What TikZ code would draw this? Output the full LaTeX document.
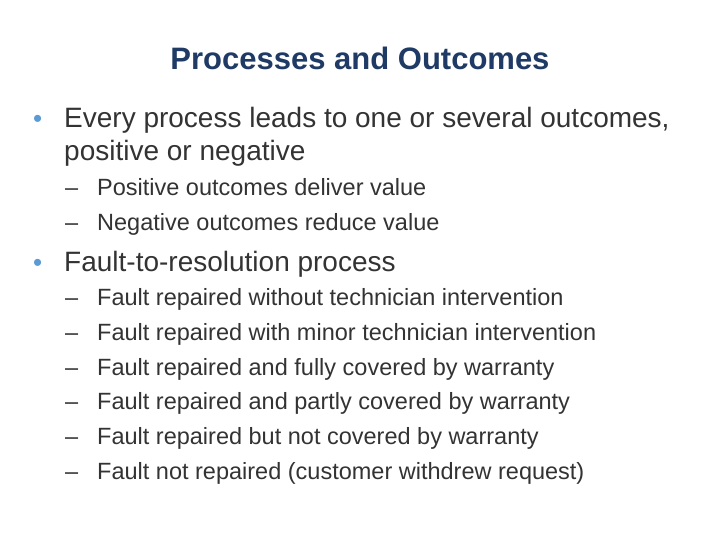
\documentclass[tikz,border=0pt]{standalone}
\usepackage{fontspec}
\setmainfont{Liberation Sans}
\definecolor{titlec}{HTML}{1F3A64}
\definecolor{bulc}{HTML}{5B9BD5}
\definecolor{txt}{HTML}{333333}
\begin{document}
\begin{tikzpicture}[x=1pt,y=-1pt,
  ttl/.style={font=\fontsize{31}{36}\selectfont\bfseries,text=titlec},
  lvone/.style={anchor=base west,inner sep=0,font=\fontsize{28}{32}\selectfont,text=txt},
  lvtwo/.style={anchor=base west,inner sep=0,font=\fontsize{23.5}{28}\selectfont,text=txt},
  dot/.style={anchor=base west,inner sep=0,font=\fontsize{26}{30}\selectfont,text=bulc},
  dsh/.style={anchor=base west,inner sep=0,font=\fontsize{23.5}{28}\selectfont,text=txt}]
\useasboundingbox[fill=white] (0,0) rectangle (720,540);
\node[ttl] (t) at (360,58) {Processes and Outcomes};
\node[dot] (b1) at (33,128) {•};
\node[lvone] (l1) at (64,128) {Every process leads to one or several outcomes,};
\node[lvone] (l1b) at (64,161) {positive or negative};
\node[dsh] (d1) at (65,196) {–}; \node[lvtwo] (s1) at (97,196) {Positive outcomes deliver value};
\node[dsh] (d2) at (65,230) {–}; \node[lvtwo] (s2) at (97,230) {Negative outcomes reduce value};
\node[dot] (b2) at (33,271) {•};
\node[lvone] (l2) at (64,271) {Fault-to-resolution process};
\foreach \y/\s [count=\i] in {305/Fault repaired without technician intervention,
  340/Fault repaired with minor technician intervention,
  375/Fault repaired and fully covered by warranty,
  409/Fault repaired and partly covered by warranty,
  444/Fault repaired but not covered by warranty,
  479/Fault not repaired (customer withdrew request)}{
  \node[dsh] (e\i) at (65,\y) {–};
  \node[lvtwo] (f\i) at (97,\y) {\s};
}
\end{tikzpicture}
\end{document}
